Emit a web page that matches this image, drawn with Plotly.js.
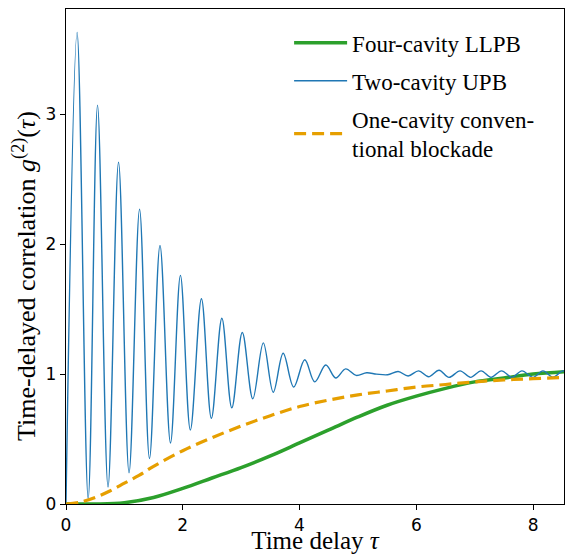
<!DOCTYPE html>
<html>
<head>
<meta charset="utf-8">
<script src="https://cdn.plot.ly/plotly-3.0.1.min.js"></script>
<style>html,body{margin:0;padding:0;background:#fff;}#chart{width:566px;height:554px;}</style>
</head>
<body>
<div id="chart"></div>
<script>
// Four-cavity LLPB
const fourX = [0, 0.5, 1.0, 1.5, 2.0, 2.5, 3.0, 3.5, 4.0, 4.5, 5.0, 5.5, 6.0, 6.5, 7.0, 7.5, 8.0, 8.6];
const fourY = [0, 0.0, 0.01, 0.05, 0.12, 0.2, 0.28, 0.37, 0.47, 0.57, 0.67, 0.76, 0.83, 0.89, 0.94, 0.97, 1.0, 1.02];

const twoX = [0, 0.19, 0.38, 0.54, 0.72, 0.90, 1.08, 1.26, 1.43, 1.61, 1.79, 1.96, 2.13, 2.32, 2.49, 2.67, 2.84, 3.02, 3.20, 3.38, 3.55, 3.72, 3.90, 4.09, 4.26, 4.45, 4.62, 4.79, 4.97, 5.15, 5.32, 5.51, 5.69, 5.86, 6.04, 6.21, 6.39, 6.56, 6.75, 6.93, 7.11, 7.28, 7.46, 7.64, 7.81, 8.0, 8.17, 8.34, 8.51, 8.6];
const twoY = [0, 3.63, 0.04, 3.07, 0.13, 2.63, 0.24, 2.27, 0.35, 1.99, 0.47, 1.76, 0.57, 1.58, 0.66, 1.43, 0.74, 1.32, 0.81, 1.24, 0.86, 1.16, 0.90, 1.11, 0.94, 1.07, 0.97, 1.04, 0.99, 1.01, 1.0, 0.995, 1.02, 0.985, 1.025, 0.98, 1.03, 0.975, 1.025, 0.975, 1.025, 0.975, 1.025, 0.975, 1.025, 0.975, 1.025, 0.975, 1.025, 1.0];

// One-cavity conventional blockade
const oneX = [0, 0.25, 0.5, 0.75, 1.0, 1.25, 1.5, 2.0, 2.5, 3.0, 3.5, 4.0, 4.5, 5.0, 5.5, 6.0, 6.5, 7.0, 7.5, 8.0, 8.6];
const oneY = [0, 0.015, 0.05, 0.10, 0.16, 0.22, 0.29, 0.41, 0.51, 0.60, 0.68, 0.75, 0.80, 0.84, 0.87, 0.90, 0.92, 0.94, 0.955, 0.965, 0.975];

const names = ["Four-cavity LLPB", "Two-cavity UPB", "One-cavity conven-<br>tional blockade"];
const xTicks = [0, 2, 4, 6, 8];
const yTicks = [0, 1, 2, 3];
const xTitle = "Time delay <i>τ</i>";
const yTitle = "Time-delayed correlation <i>g</i><sup>(2)</sup>(<i>τ</i>)";

const traces = [
  {x: fourX, y: fourY, name: names[0], mode: "lines", legendgroup: "a",
   line: {color: "#2ca02c", width: 3.5, shape: "spline"}},
  {x: twoX, y: twoY, name: names[1], mode: "lines", legendgroup: "b",
   line: {color: "#1f77b4", width: 1.4, shape: "spline", smoothing: 1}},
  {x: oneX, y: oneY, name: names[2], mode: "lines", legendgroup: "c",
   line: {color: "#e69f00", width: 3.2, dash: "12px,6px", shape: "spline"}}
];

const serif = "Liberation Serif";
const layout = {
  width: 566, height: 554,
  margin: {l: 66, r: 2, t: 9, b: 50},
  paper_bgcolor: "#fff", plot_bgcolor: "#fff",
  showlegend: true,
  legend: {x: 0.448, y: 0.975, xanchor: "left", yanchor: "top",
           bgcolor: "rgba(255,255,255,0)", borderwidth: 0,
           itemwidth: 53,
           font: {family: serif, size: 23, color: "#000"},
           tracegroupgap: 5},
  xaxis: {range: [0, 8.53], showgrid: false, zeroline: false,
          showline: true, linecolor: "#000", linewidth: 1.3, mirror: true,
          ticks: "outside", ticklen: 5, tickwidth: 1, tickcolor: "#000",
          tickvals: xTicks,
          tickfont: {family: "DejaVu Sans", size: 17, color: "#000"},
          title: {text: xTitle, font: {family: serif, size: 25, color: "#000"}, standoff: 8}},
  yaxis: {range: [0, 3.81], showgrid: false, zeroline: false,
          showline: true, linecolor: "#000", linewidth: 1.3, mirror: true,
          ticks: "outside", ticklen: 5, tickwidth: 1, tickcolor: "#000",
          tickvals: yTicks,
          tickfont: {family: "DejaVu Sans", size: 17, color: "#000"}},
  annotations: [{text: yTitle, xref: "paper", yref: "paper", x: -0.083, y: 0.46,
                 xanchor: "center", yanchor: "middle", textangle: -90, showarrow: false,
                 font: {family: serif, size: 26, color: "#000"}}]
};

Plotly.newPlot("chart", traces, layout, {displayModeBar: false, staticPlot: true});
</script>
</body>
</html>
